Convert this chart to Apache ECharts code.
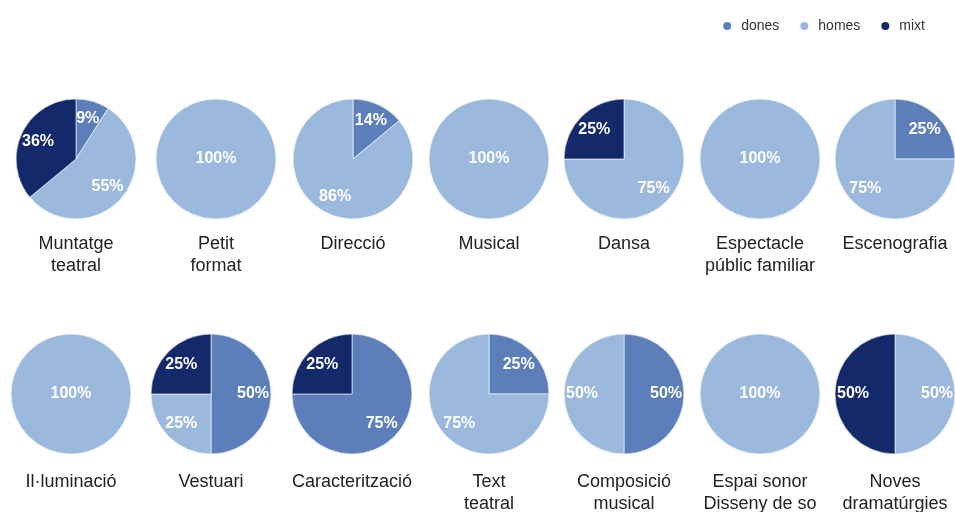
<!DOCTYPE html>
<html>
<head>
<meta charset="utf-8">
<script src="https://cdn.jsdelivr.net/npm/echarts@6/dist/echarts.min.js"></script>
<style>html,body{margin:0;padding:0;background:#fff}#c{width:955px;height:512px}</style>
</head>
<body>
<div id="c"></div>
<script>
const categories = ["Muntatge\nteatral","Petit\nformat","Direcció","Musical","Dansa","Espectacle\npúblic familiar","Escenografia","Il·luminació","Vestuari","Caracterització","Text\nteatral","Composició\nmusical","Espai sonor\nDisseny de so","Noves\ndramatúrgies"];
const dones = [9,0,14,0,0,0,25,0,50,75,25,50,0,0];
const homes = [55,100,86,100,75,100,75,100,25,0,75,50,100,50];
const mixt  = [36,0,0,0,25,0,0,0,25,25,0,0,0,50];
const seriesNames = ["dones","homes","mixt"];
const colors = {dones:"#5d7fb9", homes:"#9bb9dd", mixt:"#13296a"};

const colX = [[76,216,353,489,624,760,895],[71,211,352,489,624,760,895]];
const rowY = [159,394];
const titleY = [233,471];
const R = 60;
const FONT = 'Liberation Sans, Arial, sans-serif';

const chart = echarts.init(document.getElementById('c'));
const pieSeries = [], labelSeries = [], graphics = [];
categories.forEach((cat,i)=>{
  const row = i<7?0:1, col = i%7;
  const cx = colX[row][col], cy = rowY[row];
  const vals = [dones[i],homes[i],mixt[i]];
  const total = vals.reduce((a,b)=>a+b,0);
  const data = [], ldata = [];
  vals.forEach((v,k)=>{
    if(!v) return;
    const name = seriesNames[k];
    data.push({name, value:v, itemStyle:{color:colors[name]}});
    ldata.push({name, value:v, label:{position: v===total?'center':'inside'}});
  });
  pieSeries.push({type:'pie', center:[cx,cy], radius:R, startAngle:90, clockwise:true,
    data, label:{show:false}, labelLine:{show:false}, silent:true,
    itemStyle:{borderColor:'#ffffff', borderWidth:0.6}, animation:false});
  labelSeries.push({type:'pie', center:[cx,cy], radius:[R*0.3,R], startAngle:90, clockwise:true,
    data: ldata, silent:true, animation:false, legendHoverLink:false,
    itemStyle:{color:'rgba(0,0,0,0)'},
    label:{show:true, formatter:'{c}%', color:'#ffffff', fontSize:16, fontWeight:'bold', fontFamily:FONT},
    labelLine:{show:false}, emphasis:{disabled:true}});
  graphics.push({type:'text', x:cx, y:titleY[row], silent:true,
    style:{text:cat, align:'center', verticalAlign:'top', fill:'#222', fontSize:18, lineHeight:22, fontFamily:FONT}});
});

chart.setOption({
  backgroundColor:'#ffffff',
  legend:{top:14, right:25, itemWidth:18, itemHeight:10, itemGap:19, icon:'circle',
    data: seriesNames.map(n=>({name:n, itemStyle:{color:colors[n]}})),
    textStyle:{color:'#333', fontSize:14, fontFamily:FONT}},
  graphic: graphics,
  series: pieSeries.concat(labelSeries)
});
</script>
</body>
</html>
